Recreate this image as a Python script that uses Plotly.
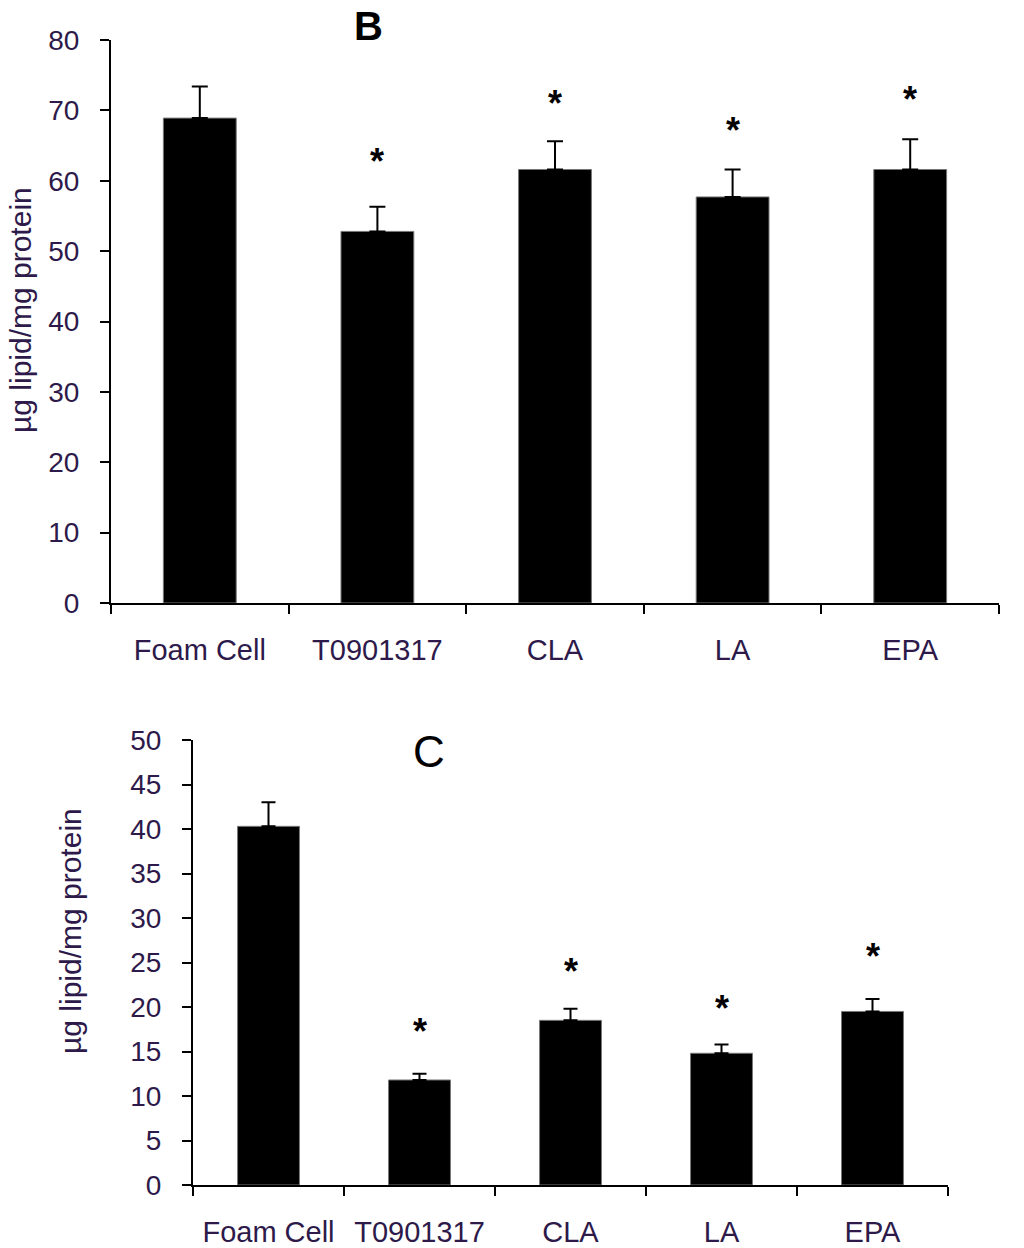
import plotly.graph_objects as go

# Panel B / C — lipid accumulation per group
categories = ["Foam Cell", "T0901317", "CLA", "LA", "EPA"]

lipid_b = [68.9, 52.8, 61.6, 57.7, 61.6]
err_b = [4.5, 3.5, 4.0, 3.9, 4.3]
star_b = [None, 63.5, 71.7, 67.9, 72.3]

lipid_c = [40.3, 11.8, 18.5, 14.8, 19.5]
err_c = [2.7, 0.7, 1.3, 1.0, 1.4]
star_c = [None, 17.8, 24.6, 20.4, 26.2]

TXT = "#2e1a4a"
FONT = "Liberation Sans, Arial, sans-serif"
W, H = 1024, 1248


def fx(px):
    return px / W


def fy(py):
    return 1 - py / H


def bar_trace(vals, errs, xa, ya, cap):
    return go.Bar(
        x=categories, y=vals, xaxis=xa, yaxis=ya, width=0.41,
        marker=dict(color="black", line=dict(color="#777777", width=1)),
        error_y=dict(type="data", array=errs, arrayminus=[0] * len(errs),
                     symmetric=False, color="black", thickness=2, width=cap),
        showlegend=False, hoverinfo="skip",
    )


def star_notes(stars, xa, ya):
    # asterisk glyph sits high in its text box, pull it down a bit
    return [
        dict(text="<b>*</b>", x=c, y=s, xref=xa, yref=ya, showarrow=False,
             yshift=-5, font=dict(family=FONT, size=36, color="black"))
        for c, s in zip(categories, stars) if s is not None
    ]


def paper_note(text, px, py, size, angle=0, color="black"):
    return dict(text=text, x=fx(px), y=fy(py), xref="paper", yref="paper",
                xanchor="center", yanchor="middle", showarrow=False, textangle=angle,
                font=dict(family=FONT, size=size, color=color))


fig = go.Figure()
fig.add_trace(bar_trace(lipid_b, err_b, "x", "y", 8))
fig.add_trace(bar_trace(lipid_c, err_c, "x2", "y2", 7))

xcommon = dict(
    type="category", showline=True, linecolor="black", linewidth=2, automargin=False,
    ticks="outside", tickson="boundaries", ticklen=9, tickwidth=2, tickcolor="black",
    ticklabelstandoff=20,
    showgrid=False, zeroline=False, tickfont=dict(family=FONT, size=29, color=TXT),
)
ycommon = dict(
    showline=True, linecolor="black", linewidth=2, ticks="outside", ticklen=9,
    tickwidth=2, tickcolor="black", showgrid=False, zeroline=False, automargin=False,
    ticklabelstandoff=15,
    tickfont=dict(family=FONT, size=28, color=TXT),
)

fig.update_layout(
    width=W, height=H,
    margin=dict(l=0, r=0, t=0, b=0, autoexpand=False),
    plot_bgcolor="white", paper_bgcolor="white",
    xaxis=dict(domain=[fx(111), fx(999)], anchor="y", **xcommon),
    yaxis=dict(domain=[fy(603), fy(40)], anchor="x", range=[0, 80], dtick=10, **ycommon),
    xaxis2=dict(domain=[fx(193), fx(948)], anchor="y2", **xcommon),
    yaxis2=dict(domain=[fy(1185), fy(740)], anchor="x2", range=[0, 50], dtick=5, **ycommon),
    annotations=[
        paper_note("<b>B</b>", 368, 26, 40),
        paper_note("C", 429, 751, 44),
        paper_note("µg lipid/mg protein", 20, 310, 30, angle=-90, color=TXT),
        paper_note("µg lipid/mg protein", 70, 931, 30, angle=-90, color=TXT),
    ] + star_notes(star_b, "x", "y") + star_notes(star_c, "x2", "y2"),
)

fig.write_html("out.html", config={"displayModeBar": False},
               post_script="document.body.style.margin='0';")
